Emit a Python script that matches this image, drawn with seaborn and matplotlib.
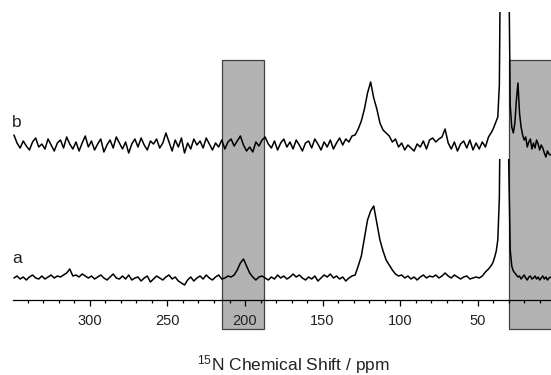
import numpy as np
import pandas as pd
import matplotlib
matplotlib.use("Agg")
import matplotlib.pyplot as plt
import seaborn as sns
from matplotlib.patches import Rectangle
from matplotlib.ticker import MultipleLocator

# ---------------- data ----------------
# chemical shift grid (ppm): 2 ppm steps down to 41, then 1 ppm steps near the sharp peaks
ppm = np.concatenate([np.arange(349, 40, -2), np.arange(40, 2, -1)])

# trace a intensities (relative to its baseline)
a_vals = [
    0, 2, -1, 1, -2,   1, 3, 0, -1, 2,   -1, 1, 3, 0, 2,   1, 3, 5, 9, 2,
    3, 1, 4, 2, 0,   2, -1, 1, 3, 0,   -2, 1, 4, 0, -1,   2, -1, 3, -2, 0,
    1, -3, 0, 2, -4,   -1, 2, 0, -2, 1,   3, -1, 1, -3, -5,   -7, -2, 1, -3, 0,
    2, -1, 3, 0, -2,   1, 3, -1, 0, 2,   1, 3, 8, 15, 19,   12, 5, 1, -2, 1,
    2, 0, -2, 1, -1,   3, 0, 2, -1, 1,   4, 1, 3, 0, -2,   1, -1, 2, -3, 0,
    3, 1, 4, 0, 2,   -1, 1, -3, 0, 2,   3, 12, 22, 40, 58,   67, 72, 55, 38, 27,
    18, 13, 8, 4, 2,   3, 0, 2, -1, 1,   -2, 1, 3, 0, 2,   1, 3, 0, 2, 5,
    2, 0, 3, 1, -1,   1, 2, -1, 0, 1,   0, 2, 6, 9, 13,
    # 1 ppm part (40 .. 3)
    16, 21, 27, 38, 80, 250, 600, 900, 700, 400, 120, 28, 12, 7, 5, 3, 1, 2, -1, 1,
    3, 0, -2, 1, 2, -1, 0, 2, -1, 1, -2, 0, 2, -1, 1, -2, 0, 1,
]

# trace b intensities (relative to its baseline)
b_vals = [
    10, 2, -3, 4, -1,   -5, 3, 7, -2, 1,   -4, 6, 0, -6, 2,   5, -3, 8, 1, -4,
    3, -6, 2, 9, -2,   4, -5, 1, 6, -7,   0, 5, -3, 8, 2,   -4, 3, -8, 1, 6,
    -2, 7, 0, -5, 4,   1, 6, -3, 2, 12,   3, -6, 5, -2, 7,   -8, 2, -4, 6, 0,
    4, -3, 7, 1, -5,   2, -2, 5, -4, 3,   6, -1, 4, 9, 0,   -6, -2, -7, 3, -1,
    5, 8, 1, -3, 4,   -5, 2, 6, -2, 3,   -4, 5, 0, -6, 2,   4, -3, 6, 1, -5,
    3, -2, 5, -4, 2,   7, 0, 6, 3, 9,   10, 16, 24, 36, 52,   63, 47, 36, 22, 15,
    12, 9, 3, 6, -2,   2, -5, 0, -3, -6,   1, -2, 4, -4, 5,   7, 3, 6, 8, 16,
    2, -4, 3, -6, 1,   4, -3, 5, -5, 2,   -4, 3, -2, 8, 13,
    # 1 ppm part (40 .. 3)
    16, 20, 24, 28, 60, 250, 800, 1200, 900, 500, 200, 40, 18, 12, 22, 45, 62, 32, 18, 10,
    5, 8, -2, 3, 6, -4, 2, -3, 5, 1, -5, 0, -3, -8, -12, -6, -9, -10,
]

trace_labels = ["a", "b"]
box_ranges = [(215, 188), (29.5, -10)]
tick_major = 50
tick_minor = 10

# ---------------- layout / style ----------------
A_OFFSET = 22
B_OFFSET = 155
A_CLIP_TOP = 141

sns.set_theme(style="white")
plt.rcParams["font.family"] = ["Liberation Sans", "DejaVu Sans"]

fig = plt.figure(figsize=(5.51, 3.75), dpi=100)
ax = fig.add_axes([13 / 551, 75 / 375, 538 / 551, 288 / 375])

df_a = pd.DataFrame({"ppm": ppm, "y": np.array(a_vals) + A_OFFSET})
df_b = pd.DataFrame({"ppm": ppm, "y": np.array(b_vals) + B_OFFSET})

sns.lineplot(data=df_a, x="ppm", y="y", ax=ax, color="black", lw=1.1,
             estimator=None, sort=False)
line_a = ax.lines[-1]
clip_rect = Rectangle((-50, -100), 500, 100 + A_CLIP_TOP, transform=ax.transData)
line_a.set_clip_path(clip_rect)

sns.lineplot(data=df_b, x="ppm", y="y", ax=ax, color="black", lw=1.1,
             estimator=None, sort=False)

for x0, x1 in box_ranges:
    ax.add_patch(Rectangle((x0, -29), x1 - x0, 269, facecolor="#b3b3b3",
                           edgecolor="#404040", lw=0.9, clip_on=False, zorder=0.5))

ax.set_xlim(349.6, 2.7)
ax.set_ylim(0, 288)
ax.set_xlabel("")
ax.set_ylabel("")
ax.set_yticks([])
for s in ["left", "right", "top"]:
    ax.spines[s].set_visible(False)
ax.spines["bottom"].set_color("black")
ax.spines["bottom"].set_linewidth(0.9)
ax.set_facecolor("none")

ax.xaxis.set_major_locator(MultipleLocator(tick_major))
ax.xaxis.set_minor_locator(MultipleLocator(tick_minor))
ax.tick_params(axis="x", which="major", bottom=True, direction="out", length=4.3,
               width=0.9, color="black", labelsize=10.5, pad=6, labelcolor="#222222")
ax.tick_params(axis="x", which="minor", bottom=True, direction="out", length=2.4,
               width=0.9, color="black")

fig.text(12 / 551, 1 - 126.7 / 375, trace_labels[1], fontsize=12.5, va="baseline", color="#222222")
fig.text(12 / 551, 1 - 263 / 375, trace_labels[0], fontsize=12.5, va="baseline", color="#222222")
fig.text(293 / 551, (375 - 370.5) / 375, r"$\mathregular{^{15}}$N Chemical Shift / ppm",
         ha="center", va="baseline", fontsize=12.5, color="#222222")

fig.savefig("out.png", dpi=100)
